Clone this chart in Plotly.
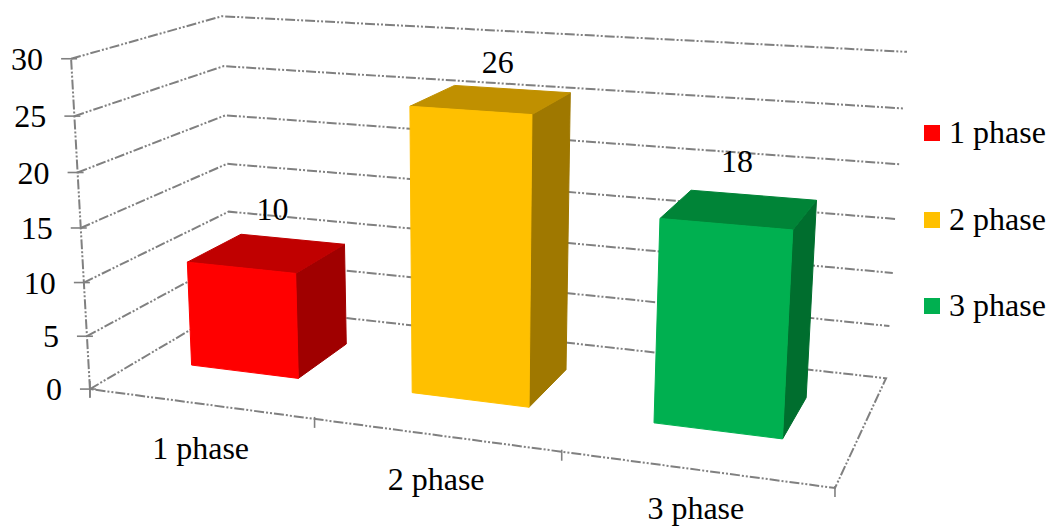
import numpy as np
import plotly.graph_objects as go

# Chart data
categories = ["1 phase", "2 phase", "3 phase"]
values = [10, 26, 18]
value_ticks = [0, 5, 10, 15, 20, 25, 30]
front_colors = ["#FF0000", "#FFC000", "#00B050"]
top_colors = ["#C00000", "#C09000", "#008437"]
side_colors = ["#A00000", "#9F7800", "#006E2E"]

FONT = '"Liberation Serif", "Times New Roman", Times, serif'
GRID = "#808080"
GRID_DASH = "10px,2px,2px,2px,2px,2px"

# Perspective view of the chart box: (category, depth, value) -> canvas pixel, weight
view_anchors = [
    ((0, 0, 0), (90, 388), 3), ((0, 0, 15), (81, 227), 1), ((0, 0, 30), (71, 59), 3),
    ((0, 1, 0), (232, 306), 3), ((0, 1, 15), (226, 163), 1), ((0, 1, 30), (222, 16), 3),
    ((3, 1, 0), (886, 378), 4), ((3, 1, 15), (897, 217), 1), ((3, 1, 30), (907, 52), 4),
    ((3, 0, 0), (835, 488), 4), ((1, 0, 0), (315, 423), 1), ((2, 0, 0), (561, 457), 1),
]
rows, rhs = [], []
for (X, Y, Z), (u, v), k in view_anchors:
    rows.append([k * c for c in (X, Y, Z, 1, 0, 0, 0, 0, -u * X, -u * Y, -u * Z)])
    rhs.append(k * u)
    rows.append([k * c for c in (0, 0, 0, 0, X, Y, Z, 1, -v * X, -v * Y, -v * Z)])
    rhs.append(k * v)
VIEW = np.append(np.linalg.lstsq(np.array(rows, float), np.array(rhs, float), rcond=None)[0], 1).reshape(3, 4)


def project(x, y, z):
    u, v, w = VIEW @ np.array([x, y, z, 1.0])
    return u / w, v / w


def path(points):
    pts = [project(*p) for p in points]
    return [p[0] for p in pts], [p[1] for p in pts]


fig = go.Figure()


def add_line(xs, ys, dash=GRID_DASH, width=2):
    fig.add_trace(go.Scatter(x=xs, y=ys, mode="lines", showlegend=False, hoverinfo="skip",
                             line=dict(color=GRID, width=width, dash=dash)))


# Gridlines on the side and back walls, floor outline
for level in value_ticks[1:]:
    add_line(*path([(0, 0, level), (0, 1, level), (3, 1, level)]))
add_line(*path([(0, 0, 0), (0, 1, 0), (3, 1, 0), (3, 0, 0), (0, 0, 0)]))
add_line(*path([(0, 0, 0), (0, 0, value_ticks[-1])]))

# Tick marks
for level in value_ticks:
    u, v = project(0, 0, level)
    add_line([u - 10, u + 6], [v, v], dash="solid", width=1.6)
for i in range(len(categories) + 1):
    u, v = project(i, 0, 0)
    add_line([u, u], [v - 2, v + 9], dash="solid", width=1.6)
u, v = project(0, 0, 0)
add_line([u, u], [v - 8, v + 8], dash="solid", width=1.6)


def add_face(points, color):
    xs, ys = path(points + points[:1])
    fig.add_trace(go.Scatter(x=xs, y=ys, mode="lines", fill="toself", fillcolor=color,
                             line=dict(color=color, width=1), showlegend=False, hoverinfo="skip"))


# Bars as cuboids standing on the floor
BAR_X = (0.241, 0.736)
BAR_Y = (0.33, 0.72)
for i, val in enumerate(values):
    x0, x1 = i + BAR_X[0], i + BAR_X[1]
    y0, y1 = BAR_Y
    add_face([(x1, y0, 0), (x1, y1, 0), (x1, y1, val), (x1, y0, val)], side_colors[i])
    add_face([(x0, y0, val), (x1, y0, val), (x1, y1, val), (x0, y1, val)], top_colors[i])
    add_face([(x0, y0, 0), (x1, y0, 0), (x1, y0, val), (x0, y0, val)], front_colors[i])

# Value labels above the bars
label_nudge = [(6, -43), (6, -36), (-4, -47)]
lab = [project(i + 0.5, 0.5, v) for i, v in enumerate(values)]
fig.add_trace(go.Scatter(x=[p[0] + n[0] for p, n in zip(lab, label_nudge)],
                         y=[p[1] + n[1] for p, n in zip(lab, label_nudge)], mode="text",
                         text=[str(v) for v in values], textposition="middle center",
                         textfont=dict(family=FONT, size=32, color="black"),
                         showlegend=False, hoverinfo="skip"))

# Value axis labels
zt = [project(0, 0, t) for t in value_ticks]
fig.add_trace(go.Scatter(x=[p[0] - 28 for p in zt], y=[p[1] + 3 for p in zt], mode="text",
                         text=[str(t) for t in value_ticks], textposition="middle left",
                         textfont=dict(family=FONT, size=32, color="black"),
                         showlegend=False, hoverinfo="skip"))

# Category axis labels, kept inside the canvas
ct = [project(i + 0.5, 0, 0) for i in range(len(categories))]
fig.add_trace(go.Scatter(x=[p[0] + 1 for p in ct], y=[min(p[1] + 47, 511) for p in ct], mode="text",
                         text=categories, textposition="middle center",
                         textfont=dict(family=FONT, size=32, color="black"),
                         showlegend=False, hoverinfo="skip"))

# Key on the right: one square and name per series
key_x, key_text_x = 932, 949
key_y = [133, 220, 306]
for name, color, ky in zip(categories, front_colors, key_y):
    fig.add_trace(go.Scatter(x=[key_x], y=[ky], mode="markers", name=name, showlegend=False,
                             hoverinfo="skip", marker=dict(symbol="square", size=16, color=color)))
    fig.add_trace(go.Scatter(x=[key_text_x], y=[ky + 2], mode="text", text=[name], textposition="middle right",
                             textfont=dict(family=FONT, size=32, color="black"),
                             showlegend=False, hoverinfo="skip"))

fig.update_layout(
    width=1050, height=529, autosize=False, margin=dict(l=0, r=0, t=0, b=0),
    paper_bgcolor="white", plot_bgcolor="white", showlegend=False,
    xaxis=dict(range=[0, 1050], visible=False, fixedrange=True),
    yaxis=dict(range=[529, 0], visible=False, fixedrange=True),
)

fig.write_html("out.html")
